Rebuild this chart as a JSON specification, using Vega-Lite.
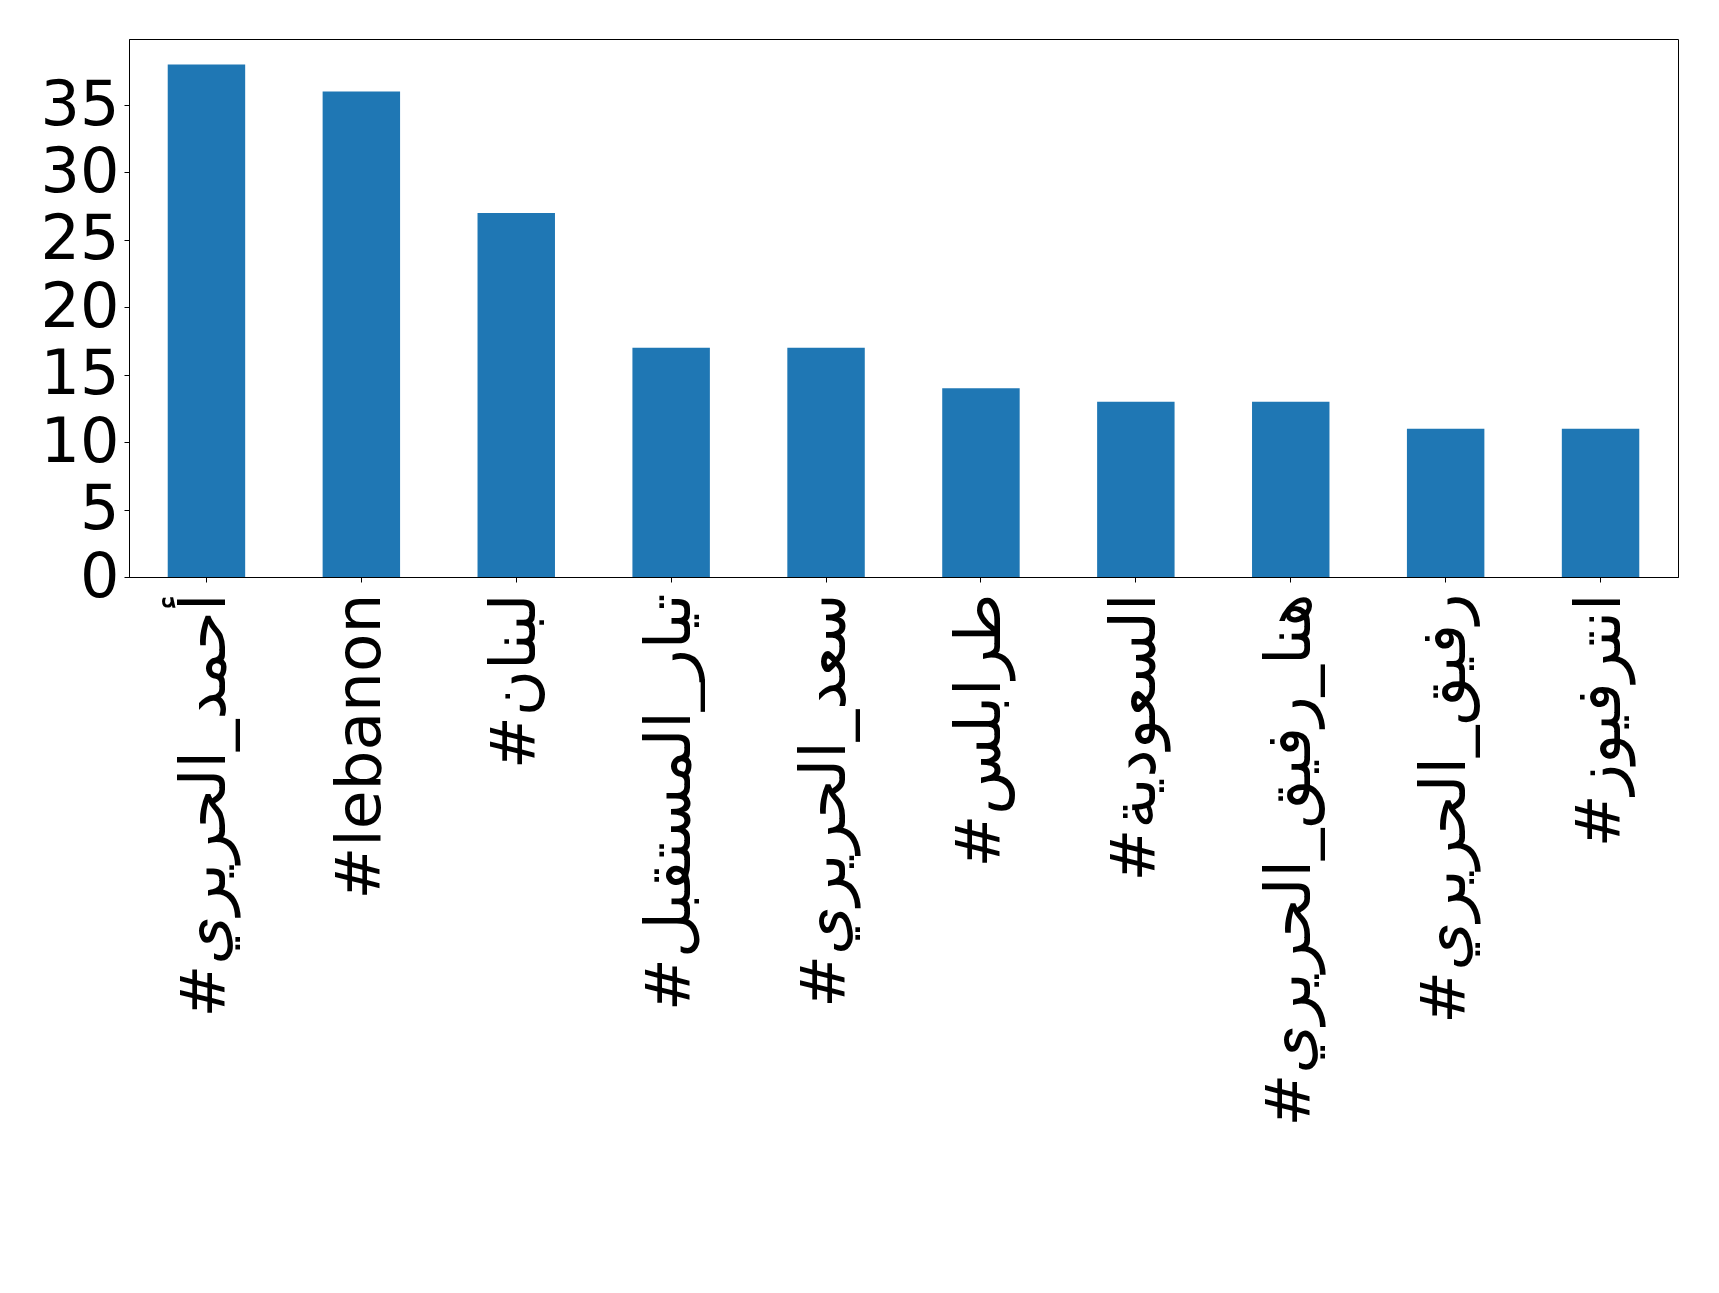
{
  "$schema": "https://vega.github.io/schema/vega-lite/v6.json",
  "width": 1549,
  "height": 538,
  "autosize": "none",
  "padding": {"left": 129, "top": 39, "right": 41, "bottom": 716},
  "background": "white",
  "data": {
    "values": [
      {"tag": "#أحمد_الحريري", "count": 38},
      {"tag": "#lebanon", "count": 36},
      {"tag": "#لبنان", "count": 27},
      {"tag": "#تيار_المستقبل", "count": 17},
      {"tag": "#سعد_الحريري", "count": 17},
      {"tag": "#طرابلس", "count": 14},
      {"tag": "#السعودية", "count": 13},
      {"tag": "#هنا_رفيق_الحريري", "count": 13},
      {"tag": "#رفيق_الحريري", "count": 11},
      {"tag": "#انترفيوز", "count": 11}
    ]
  },
  "mark": {"type": "bar", "color": "#1f77b4"},
  "encoding": {
    "x": {
      "field": "tag",
      "type": "nominal",
      "sort": null,
      "scale": {"paddingInner": 0.5, "paddingOuter": 0.25},
      "axis": {
        "title": null,
        "labelAngle": -90,
        "labelFont": "DejaVu Sans",
        "labelFontSize": 63,
        "labelColor": "black",
        "labelPadding": 11,
        "labelLimit": 0,
        "tickColor": "black",
        "tickSize": 5,
        "domainColor": "black",
        "grid": false
      }
    },
    "y": {
      "field": "count",
      "type": "quantitative",
      "scale": {"domain": [0, 39.9], "nice": false, "zero": true},
      "axis": {
        "title": null,
        "values": [0, 5, 10, 15, 20, 25, 30, 35],
        "labelFont": "DejaVu Sans",
        "labelFontSize": 62,
        "labelColor": "black",
        "labelPadding": 5,
        "tickColor": "black",
        "tickSize": 5,
        "domainColor": "black",
        "grid": false,
        "labelFlush": false,
        "labelOverlap": false
      }
    }
  },
  "config": {
    "view": {"stroke": "black", "strokeWidth": 1},
    "axis": {"domainWidth": 1, "tickWidth": 1}
  }
}
